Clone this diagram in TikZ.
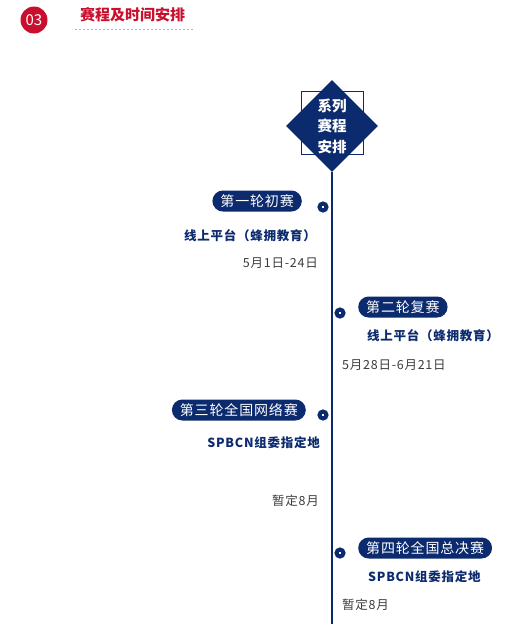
\documentclass[tikz,border=0pt]{standalone}
\usepackage{fontspec}
\newfontfamily\cjk{Noto Sans CJK SC}
\newfontfamily\cjkwide[LetterSpace=6]{Noto Sans CJK SC}
\usetikzlibrary{positioning, shapes.geometric}
\definecolor{navy}{RGB}{12,42,110}
\definecolor{brand}{RGB}{200,16,46}
\definecolor{dategray}{RGB}{60,60,60}

\begin{document}
\begin{tikzpicture}[x=1pt, y=-1pt,
        pill/.style={rectangle, rounded corners=10.5pt, fill=navy, text=white, minimum height=21pt, inner xsep=8pt, inner ysep=0pt, font=\cjkwide\fontsize{14}{14}\selectfont},
        dot/.style={circle, draw=navy, line width=4pt, fill=white, minimum size=7pt, inner sep=0pt},
        place/.style={inner sep=0pt, text=navy, font=\cjkwide\bfseries\fontsize{12.5}{14}\selectfont},
        date/.style={inner sep=0pt, text=dategray, font=\cjkwide\fontsize{12.5}{14}\selectfont}
    ]
        \useasboundingbox (0,0) rectangle (522,624);

        % heading
        \node[circle, fill=brand, minimum size=27pt, inner sep=0pt, text=white, font=\cjk\fontsize{15}{15}\selectfont] (badge) at (34,20) {03};
        \node[anchor=west, inner sep=0pt, text=brand, font=\cjk\bfseries\fontsize{15}{16}\selectfont] (title) at (80,15) {赛程及时间安排};
        \draw[gray!60, dash pattern=on 2pt off 2pt] (75,29) -- (193,29);

        % timeline head
        \node[draw=navy, line width=0.8pt, fill=white, minimum width=62pt, minimum height=63pt] (frame) at (332,122.5) {};
        \node[diamond, fill=navy, minimum width=92pt, minimum height=92pt, inner sep=0pt, text=white, align=center, font=\cjk\bfseries\fontsize{14.5}{20.5}\selectfont] (series) at (332,126) {系列\\赛程\\安排};
        \coordinate (lineend) at (332,624);
        \draw[navy, line width=1.2pt] (series.south) -- (lineend);

        % round 1
        \node[dot] (d1) at (323,207) {};
        \node[pill, anchor=east] (r1) at (302,201) {第一轮初赛};
        \node[place, anchor=east] (p1) at (316,236) {线上平台（蜂拥教育）};
        \node[date, anchor=east] (t1) at (318,263) {5月1日-24日};

        % round 2
        \node[dot] (d2) at (340,313) {};
        \node[pill, anchor=west] (r2) at (358,307) {第二轮复赛};
        \node[place, anchor=west] (p2) at (367,336) {线上平台（蜂拥教育）};
        \node[date, anchor=west] (t2) at (342,365) {5月28日-6月21日};

        % round 3
        \node[dot] (d3) at (323,415) {};
        \node[pill, anchor=east] (r3) at (306,410) {第三轮全国网络赛};
        \node[place, anchor=east] (p3) at (320,443) {SPBCN组委指定地};
        \node[date, anchor=east] (t3) at (319,501) {暂定8月};

        % round 4
        \node[dot] (d4) at (340,553) {};
        \node[pill, anchor=west] (r4) at (358,548) {第四轮全国总决赛};
        \node[place, anchor=west] (p4) at (368,577) {SPBCN组委指定地};
        \node[date, anchor=west] (t4) at (342,605) {暂定8月};
    \end{tikzpicture}
\end{document}
